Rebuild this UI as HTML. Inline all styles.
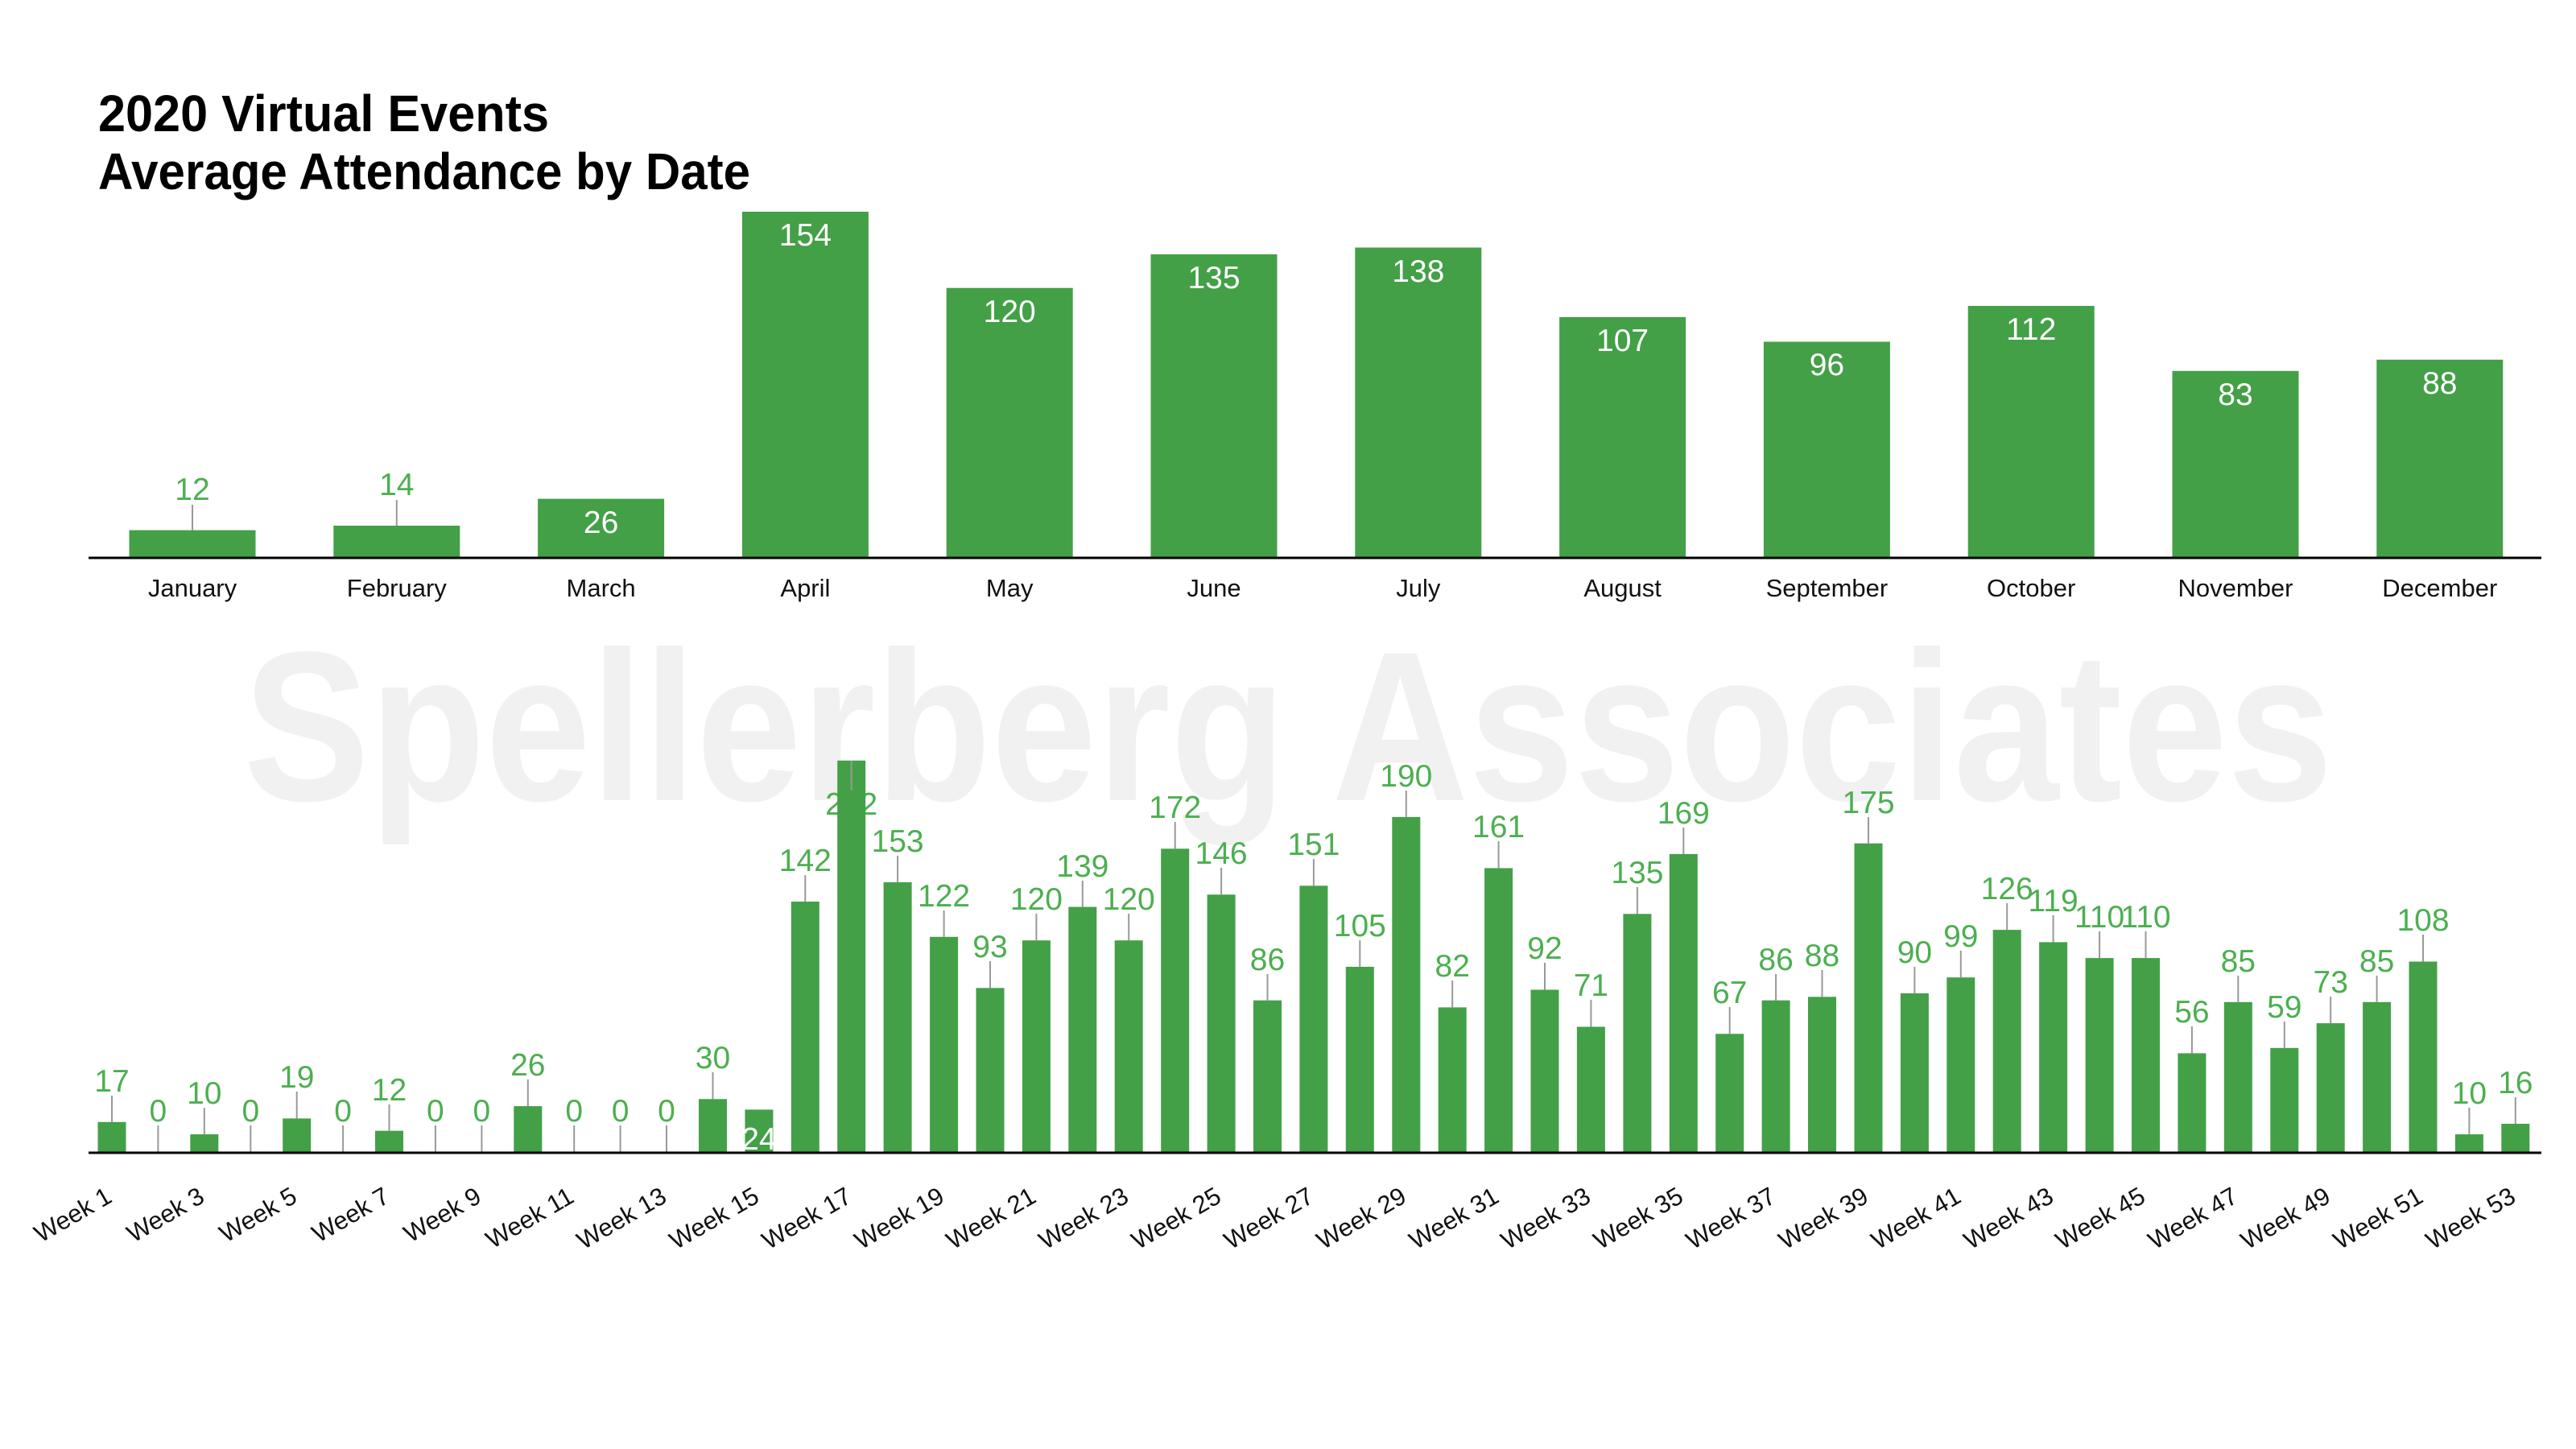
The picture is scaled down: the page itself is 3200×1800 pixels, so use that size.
<!DOCTYPE html>
<html><head><meta charset="utf-8"><style>
html,body{margin:0;padding:0;background:#fff;width:3200px;height:1800px;overflow:hidden}
svg{display:block}
text{font-family:"Liberation Sans",sans-serif}
.v{fill:#4caf50;font-size:39px;text-anchor:middle}
.w{fill:#fff;font-size:39px;text-anchor:middle}
.m{fill:#111;font-size:31px;text-anchor:middle}
.k{fill:#111;font-size:31px;text-anchor:end}
.b{fill:#43a047}
.l{stroke:#999;stroke-width:2}
</style></head><body>
<svg width="3200" height="1800" viewBox="0 0 3200 1800" xmlns="http://www.w3.org/2000/svg">
<text x="302" y="994" font-size="265" font-weight="bold" fill="#f1f1f1" textLength="2596" lengthAdjust="spacingAndGlyphs">Spellerberg Associates</text>
<text x="122" y="163" font-size="64" font-weight="bold" fill="#000" textLength="560" lengthAdjust="spacingAndGlyphs">2020 Virtual Events</text>
<text x="122" y="235" font-size="64" font-weight="bold" fill="#000" textLength="810" lengthAdjust="spacingAndGlyphs">Average Attendance by Date</text>

<!-- top chart -->
<g>
<rect class="b" x="160.5" y="658.6" width="157" height="33.4"/><line class="l" x1="239" y1="627" x2="239" y2="658.6"/><text class="v" x="239" y="621">12</text>
<rect class="b" x="414.3" y="653" width="157" height="39"/><line class="l" x1="492.8" y1="621" x2="492.8" y2="653"/><text class="v" x="492.8" y="615">14</text>
<rect class="b" x="668.1" y="619.6" width="157" height="72.4"/><text class="w" x="746.6" y="662">26</text>
<rect class="b" x="921.9" y="263" width="157" height="429"/><text class="w" x="1000.4" y="305">154</text>
<rect class="b" x="1175.7" y="357.7" width="157" height="334.3"/><text class="w" x="1254.2" y="400">120</text>
<rect class="b" x="1429.5" y="315.9" width="157" height="376.1"/><text class="w" x="1508" y="358">135</text>
<rect class="b" x="1683.3" y="307.5" width="157" height="384.5"/><text class="w" x="1761.8" y="350">138</text>
<rect class="b" x="1937.1" y="393.9" width="157" height="298.1"/><text class="w" x="2015.6" y="436">107</text>
<rect class="b" x="2190.9" y="424.5" width="157" height="267.5"/><text class="w" x="2269.4" y="466">96</text>
<rect class="b" x="2444.7" y="380" width="157" height="312"/><text class="w" x="2523.2" y="422">112</text>
<rect class="b" x="2698.5" y="460.8" width="157" height="231.2"/><text class="w" x="2777" y="503">83</text>
<rect class="b" x="2952.3" y="446.8" width="157" height="245.2"/><text class="w" x="3030.8" y="489">88</text>
<line x1="110" y1="693" x2="3157" y2="693" stroke="#000" stroke-width="3"/>
<text class="m" x="239" y="741">January</text>
<text class="m" x="492.8" y="741">February</text>
<text class="m" x="746.6" y="741">March</text>
<text class="m" x="1000.4" y="741">April</text>
<text class="m" x="1254.2" y="741">May</text>
<text class="m" x="1508" y="741">June</text>
<text class="m" x="1761.8" y="741">July</text>
<text class="m" x="2015.6" y="741">August</text>
<text class="m" x="2269.4" y="741">September</text>
<text class="m" x="2523.2" y="741">October</text>
<text class="m" x="2777" y="741">November</text>
<text class="m" x="3030.8" y="741">December</text>
</g>

<!-- bottom chart -->
<g>
<rect class="b" x="121.5" y="1393.8" width="35" height="37.2"/><line class="l" x1="139" y1="1361" x2="139" y2="1393.8"/><text class="v" x="139" y="1356">17</text>
<line class="l" x1="196.4" y1="1398" x2="196.4" y2="1431"/><text class="v" x="196.4" y="1393">0</text>
<rect class="b" x="236.3" y="1409.1" width="35" height="21.9"/><line class="l" x1="253.8" y1="1376" x2="253.8" y2="1409.1"/><text class="v" x="253.8" y="1371">10</text>
<line class="l" x1="311.3" y1="1398" x2="311.3" y2="1431"/><text class="v" x="311.3" y="1393">0</text>
<rect class="b" x="351.2" y="1389.4" width="35" height="41.6"/><line class="l" x1="368.7" y1="1356" x2="368.7" y2="1389.4"/><text class="v" x="368.7" y="1351">19</text>
<line class="l" x1="426.1" y1="1398" x2="426.1" y2="1431"/><text class="v" x="426.1" y="1393">0</text>
<rect class="b" x="466" y="1404.7" width="35" height="26.3"/><line class="l" x1="483.5" y1="1372" x2="483.5" y2="1404.7"/><text class="v" x="483.5" y="1367">12</text>
<line class="l" x1="540.9" y1="1398" x2="540.9" y2="1431"/><text class="v" x="540.9" y="1393">0</text>
<line class="l" x1="598.4" y1="1398" x2="598.4" y2="1431"/><text class="v" x="598.4" y="1393">0</text>
<rect class="b" x="638.3" y="1374.1" width="35" height="56.9"/><line class="l" x1="655.8" y1="1341" x2="655.8" y2="1374.1"/><text class="v" x="655.8" y="1336">26</text>
<line class="l" x1="713.2" y1="1398" x2="713.2" y2="1431"/><text class="v" x="713.2" y="1393">0</text>
<line class="l" x1="770.6" y1="1398" x2="770.6" y2="1431"/><text class="v" x="770.6" y="1393">0</text>
<line class="l" x1="828" y1="1398" x2="828" y2="1431"/><text class="v" x="828" y="1393">0</text>
<rect class="b" x="868" y="1365.3" width="35" height="65.7"/><line class="l" x1="885.5" y1="1332" x2="885.5" y2="1365.3"/><text class="v" x="885.5" y="1327">30</text>
<rect class="b" x="925.4" y="1378.4" width="35" height="52.6"/><text class="w" x="942.9" y="1428">24</text>
<rect class="b" x="982.8" y="1120" width="35" height="311"/><line class="l" x1="1000.3" y1="1087" x2="1000.3" y2="1120"/><text class="v" x="1000.3" y="1082">142</text>
<text class="v" x="1057.7" y="1012">222</text><rect class="b" x="1040.2" y="944.8" width="35" height="486.2"/><line class="l" x1="1057.7" y1="944.8" x2="1057.7" y2="982"/>
<rect class="b" x="1097.6" y="1095.9" width="35" height="335.1"/><line class="l" x1="1115.1" y1="1063" x2="1115.1" y2="1095.9"/><text class="v" x="1115.1" y="1058">153</text>
<rect class="b" x="1155.1" y="1163.8" width="35" height="267.2"/><line class="l" x1="1172.6" y1="1131" x2="1172.6" y2="1163.8"/><text class="v" x="1172.6" y="1126">122</text>
<rect class="b" x="1212.5" y="1227.3" width="35" height="203.7"/><line class="l" x1="1230" y1="1194" x2="1230" y2="1227.3"/><text class="v" x="1230" y="1189">93</text>
<rect class="b" x="1269.9" y="1168.2" width="35" height="262.8"/><line class="l" x1="1287.4" y1="1135" x2="1287.4" y2="1168.2"/><text class="v" x="1287.4" y="1130">120</text>
<rect class="b" x="1327.3" y="1126.6" width="35" height="304.4"/><line class="l" x1="1344.8" y1="1094" x2="1344.8" y2="1126.6"/><text class="v" x="1344.8" y="1089">139</text>
<rect class="b" x="1384.7" y="1168.2" width="35" height="262.8"/><line class="l" x1="1402.2" y1="1135" x2="1402.2" y2="1168.2"/><text class="v" x="1402.2" y="1130">120</text>
<rect class="b" x="1442.2" y="1054.3" width="35" height="376.7"/><line class="l" x1="1459.7" y1="1021" x2="1459.7" y2="1054.3"/><text class="v" x="1459.7" y="1016">172</text>
<rect class="b" x="1499.6" y="1111.3" width="35" height="319.7"/><line class="l" x1="1517.1" y1="1078" x2="1517.1" y2="1111.3"/><text class="v" x="1517.1" y="1073">146</text>
<rect class="b" x="1557" y="1242.7" width="35" height="188.3"/><line class="l" x1="1574.5" y1="1210" x2="1574.5" y2="1242.7"/><text class="v" x="1574.5" y="1205">86</text>
<rect class="b" x="1614.4" y="1100.3" width="35" height="330.7"/><line class="l" x1="1631.9" y1="1067" x2="1631.9" y2="1100.3"/><text class="v" x="1631.9" y="1062">151</text>
<rect class="b" x="1671.8" y="1201" width="35" height="230"/><line class="l" x1="1689.3" y1="1168" x2="1689.3" y2="1201"/><text class="v" x="1689.3" y="1163">105</text>
<rect class="b" x="1729.3" y="1014.9" width="35" height="416.1"/><line class="l" x1="1746.8" y1="982" x2="1746.8" y2="1014.9"/><text class="v" x="1746.8" y="977">190</text>
<rect class="b" x="1786.7" y="1251.4" width="35" height="179.6"/><line class="l" x1="1804.2" y1="1218" x2="1804.2" y2="1251.4"/><text class="v" x="1804.2" y="1213">82</text>
<rect class="b" x="1844.1" y="1078.4" width="35" height="352.6"/><line class="l" x1="1861.6" y1="1045" x2="1861.6" y2="1078.4"/><text class="v" x="1861.6" y="1040">161</text>
<rect class="b" x="1901.5" y="1229.5" width="35" height="201.5"/><line class="l" x1="1919" y1="1196" x2="1919" y2="1229.5"/><text class="v" x="1919" y="1191">92</text>
<rect class="b" x="1958.9" y="1275.5" width="35" height="155.5"/><line class="l" x1="1976.4" y1="1242" x2="1976.4" y2="1275.5"/><text class="v" x="1976.4" y="1237">71</text>
<rect class="b" x="2016.4" y="1135.3" width="35" height="295.7"/><line class="l" x1="2033.9" y1="1102" x2="2033.9" y2="1135.3"/><text class="v" x="2033.9" y="1097">135</text>
<rect class="b" x="2073.8" y="1060.9" width="35" height="370.1"/><line class="l" x1="2091.3" y1="1028" x2="2091.3" y2="1060.9"/><text class="v" x="2091.3" y="1023">169</text>
<rect class="b" x="2131.2" y="1284.3" width="35" height="146.7"/><line class="l" x1="2148.7" y1="1251" x2="2148.7" y2="1284.3"/><text class="v" x="2148.7" y="1246">67</text>
<rect class="b" x="2188.6" y="1242.7" width="35" height="188.3"/><line class="l" x1="2206.1" y1="1210" x2="2206.1" y2="1242.7"/><text class="v" x="2206.1" y="1205">86</text>
<rect class="b" x="2246" y="1238.3" width="35" height="192.7"/><line class="l" x1="2263.5" y1="1205" x2="2263.5" y2="1238.3"/><text class="v" x="2263.5" y="1200">88</text>
<rect class="b" x="2303.5" y="1047.7" width="35" height="383.3"/><line class="l" x1="2321" y1="1015" x2="2321" y2="1047.7"/><text class="v" x="2321" y="1010">175</text>
<rect class="b" x="2360.9" y="1233.9" width="35" height="197.1"/><line class="l" x1="2378.4" y1="1201" x2="2378.4" y2="1233.9"/><text class="v" x="2378.4" y="1196">90</text>
<rect class="b" x="2418.3" y="1214.2" width="35" height="216.8"/><line class="l" x1="2435.8" y1="1181" x2="2435.8" y2="1214.2"/><text class="v" x="2435.8" y="1176">99</text>
<rect class="b" x="2475.7" y="1155.1" width="35" height="275.9"/><line class="l" x1="2493.2" y1="1122" x2="2493.2" y2="1155.1"/><text class="v" x="2493.2" y="1117">126</text>
<rect class="b" x="2533.1" y="1170.4" width="35" height="260.6"/><line class="l" x1="2550.6" y1="1137" x2="2550.6" y2="1170.4"/><text class="v" x="2550.6" y="1132">119</text>
<rect class="b" x="2590.6" y="1190.1" width="35" height="240.9"/><line class="l" x1="2608.1" y1="1157" x2="2608.1" y2="1190.1"/><text class="v" x="2608.1" y="1152">110</text>
<rect class="b" x="2648" y="1190.1" width="35" height="240.9"/><line class="l" x1="2665.5" y1="1157" x2="2665.5" y2="1190.1"/><text class="v" x="2665.5" y="1152">110</text>
<rect class="b" x="2705.4" y="1308.4" width="35" height="122.6"/><line class="l" x1="2722.9" y1="1275" x2="2722.9" y2="1308.4"/><text class="v" x="2722.9" y="1270">56</text>
<rect class="b" x="2762.8" y="1244.8" width="35" height="186.2"/><line class="l" x1="2780.3" y1="1212" x2="2780.3" y2="1244.8"/><text class="v" x="2780.3" y="1207">85</text>
<rect class="b" x="2820.3" y="1301.8" width="35" height="129.2"/><line class="l" x1="2837.8" y1="1269" x2="2837.8" y2="1301.8"/><text class="v" x="2837.8" y="1264">59</text>
<rect class="b" x="2877.7" y="1271.1" width="35" height="159.9"/><line class="l" x1="2895.2" y1="1238" x2="2895.2" y2="1271.1"/><text class="v" x="2895.2" y="1233">73</text>
<rect class="b" x="2935.1" y="1244.8" width="35" height="186.2"/><line class="l" x1="2952.6" y1="1212" x2="2952.6" y2="1244.8"/><text class="v" x="2952.6" y="1207">85</text>
<rect class="b" x="2992.5" y="1194.5" width="35" height="236.5"/><line class="l" x1="3010" y1="1161" x2="3010" y2="1194.5"/><text class="v" x="3010" y="1156">108</text>
<rect class="b" x="3049.9" y="1409.1" width="35" height="21.9"/><line class="l" x1="3067.4" y1="1376" x2="3067.4" y2="1409.1"/><text class="v" x="3067.4" y="1371">10</text>
<rect class="b" x="3107.3" y="1396" width="35" height="35"/><line class="l" x1="3124.8" y1="1363" x2="3124.8" y2="1396"/><text class="v" x="3124.8" y="1358">16</text>
<line x1="110" y1="1432" x2="3157" y2="1432" stroke="#000" stroke-width="3"/>

<text class="k" transform="translate(141,1492) rotate(-30)">Week 1</text>
<text class="k" transform="translate(256,1492) rotate(-30)">Week 3</text>
<text class="k" transform="translate(371,1492) rotate(-30)">Week 5</text>
<text class="k" transform="translate(486,1492) rotate(-30)">Week 7</text>
<text class="k" transform="translate(600,1492) rotate(-30)">Week 9</text>
<text class="k" transform="translate(715,1492) rotate(-30)">Week 11</text>
<text class="k" transform="translate(830,1492) rotate(-30)">Week 13</text>
<text class="k" transform="translate(945,1492) rotate(-30)">Week 15</text>
<text class="k" transform="translate(1060,1492) rotate(-30)">Week 17</text>
<text class="k" transform="translate(1175,1492) rotate(-30)">Week 19</text>
<text class="k" transform="translate(1289,1492) rotate(-30)">Week 21</text>
<text class="k" transform="translate(1404,1492) rotate(-30)">Week 23</text>
<text class="k" transform="translate(1519,1492) rotate(-30)">Week 25</text>
<text class="k" transform="translate(1634,1492) rotate(-30)">Week 27</text>
<text class="k" transform="translate(1749,1492) rotate(-30)">Week 29</text>
<text class="k" transform="translate(1864,1492) rotate(-30)">Week 31</text>
<text class="k" transform="translate(1978,1492) rotate(-30)">Week 33</text>
<text class="k" transform="translate(2093,1492) rotate(-30)">Week 35</text>
<text class="k" transform="translate(2208,1492) rotate(-30)">Week 37</text>
<text class="k" transform="translate(2323,1492) rotate(-30)">Week 39</text>
<text class="k" transform="translate(2438,1492) rotate(-30)">Week 41</text>
<text class="k" transform="translate(2553,1492) rotate(-30)">Week 43</text>
<text class="k" transform="translate(2667,1492) rotate(-30)">Week 45</text>
<text class="k" transform="translate(2782,1492) rotate(-30)">Week 47</text>
<text class="k" transform="translate(2897,1492) rotate(-30)">Week 49</text>
<text class="k" transform="translate(3012,1492) rotate(-30)">Week 51</text>
<text class="k" transform="translate(3127,1492) rotate(-30)">Week 53</text>
</g>
</svg>
</body></html>
